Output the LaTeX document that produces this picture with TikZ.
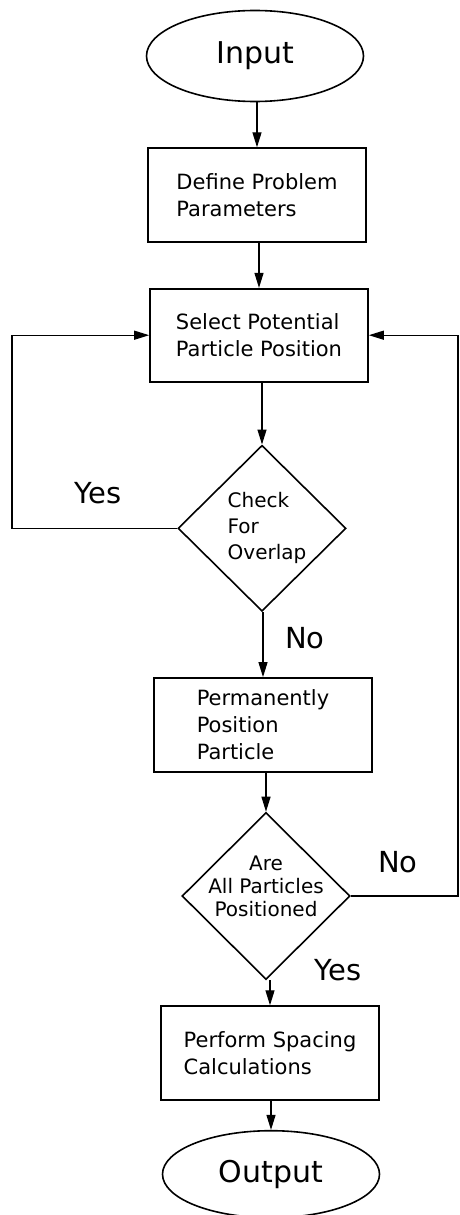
\documentclass[tikz,border=0pt]{standalone}
\usepackage{fontspec}
\setmainfont{DejaVu Sans}
\usepackage{tikz}
\usetikzlibrary{arrows.meta,positioning,shapes.geometric}
\tikzstyle{term} = [draw=black,line width=1.6pt,ellipse,minimum width=217pt,minimum height=91pt,inner sep=0,font=\fontsize{30}{36}\selectfont]
\tikzstyle{proc} = [draw=black,line width=1.6pt,rectangle,minimum width=218pt,minimum height=94pt,align=left,inner sep=0,font=\fontsize{21}{27}\selectfont]
\tikzstyle{decision} = [draw=black,line width=1.6pt,diamond,minimum width=168pt,minimum height=166pt,inner sep=0]
\tikzstyle{inside} = [inner sep=0,font=\fontsize{20}{26}\selectfont]
\tikzstyle{answer} = [font=\fontsize{29}{34}\selectfont]
\tikzstyle{flow} = [line width=1.2pt,-{Triangle[length=15pt,width=9pt]}]
\tikzset{x=1pt, y=-1pt}

\begin{document}
\begin{tikzpicture}
\useasboundingbox (0,0) rectangle (459,1215);

\node[term] (input) at (255,56) {Input};
\node[proc, below=45pt of input, xshift=2pt] (define) {Define Problem\\Parameters};
\node[proc, below=45pt of define, xshift=2pt, minimum height=93pt] (select) {Select Potential\\Particle Position};
\node[decision, below=62pt of select, xshift=3pt] (check) {};
\node[inside, align=left, xshift=5pt] (checktext) at (check) {Check\\For\\Overlap};
\node[proc, below=65pt of check, xshift=1pt] (place) {Permanently\\Position\\Particle};
\node[decision, below=39pt of place, xshift=3pt, minimum height=167pt] (alldone) {};
\node[inside, align=center, yshift=10pt, font=\fontsize{20}{23}\selectfont] (alldonetext) at (alldone) {Are\\All Particles\\Positioned};
\node[proc, below=25pt of alldone, xshift=4pt] (spacing) {Perform Spacing\\Calculations};
\node[term, below=29pt of spacing, xshift=1pt, minimum height=87pt] (output) {Output};

% labels on the branches
\node[answer] (yes1) at (98,493) {Yes};
\node[answer] (no1) at (305,638) {No};
\node[answer] (no2) at (398,862) {No};
\node[answer] (yes2) at (338,970) {Yes};

\coordinate (lft) at (12,0);
\coordinate (rgt) at (458,0);

\draw[flow] (define.north |- input.south) to (define.north);
\draw[flow] (select.north |- define.south) to (select.north);
\draw[flow] (check.north |- select.south) to (check.north);
\draw[flow] (place.north |- check.south) to (place.north);
\draw[flow] (alldone.north |- place.south) to (alldone.north);
\draw[flow] (spacing.north |- alldone.south) to (spacing.north);
\draw[flow] (output.north |- spacing.south) to (output.north);

% back to a new position
\draw[flow] (check.west) -- (check.west -| lft) |- (select.west);
\draw[flow] (alldone.east) -- (alldone.east -| rgt) |- (select.east);
\end{tikzpicture}
\end{document}
